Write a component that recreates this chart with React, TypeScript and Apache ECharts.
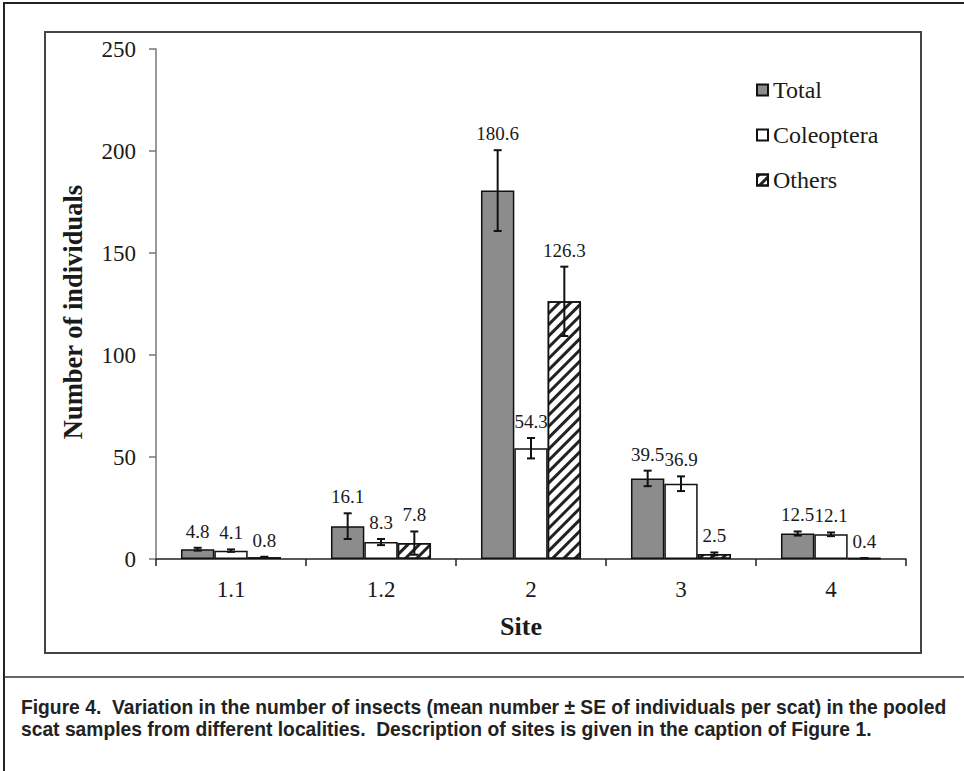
import React, { useEffect, useRef } from "react";
import * as echarts from "echarts";

const sites = ["1.1", "1.2", "2", "3", "4"];
const seriesNames = ["Total", "Coleoptera", "Others"];
const totalMean = [4.8, 16.1, 180.6, 39.5, 12.5];
const totalSE = [0.7, 6.3, 19.8, 3.8, 1.0];
const coleopteraMean = [4.1, 8.3, 54.3, 36.9, 12.1];
const coleopteraSE = [0.6, 1.5, 5.0, 3.6, 0.9];
const othersMean = [0.8, 7.8, 126.3, 2.5, 0.4];
const othersSE = [0.3, 5.7, 17.0, 0.7, 0.1];
const yTicks = [0, 50, 100, 150, 200, 250];
const caption1 =
  "Figure 4.  Variation in the number of insects (mean number \u00b1 SE of individuals per scat) in the pooled";
const caption2 =
  "scat samples from different localities.  Description of sites is given in the caption of Figure 1.";

const means = [totalMean, coleopteraMean, othersMean];
const ses = [totalSE, coleopteraSE, othersSE];

const SERIF = '"Liberation Serif", "Times New Roman", serif';
const SANS = '"Liberation Sans", Arial, sans-serif';

export default function App() {
  const ref = useRef<HTMLDivElement>(null);
  useEffect(() => {
    document.body.style.margin = "0";
    if (!ref.current) return;
    const chart = echarts.init(ref.current, null, { renderer: "svg" });

    const capFont = `bold 20px ${SANS}`;
    let capScale = 0.95;
    try {
      const ctx = document.createElement("canvas").getContext("2d");
      if (ctx) {
        ctx.font = capFont;
        const w = ctx.measureText(caption1).width;
        if (w > 0) capScale = 926 / w;
      }
    } catch (e) {}

    const errSeries = (k: number) => ({
      type: "custom",
      name: "err" + k,
      z: 5,
      silent: true,
      data: sites.map((_, i) => [i, means[k][i], ses[k][i]]),
      renderItem: (params: any, api: any) => {
        const ci = api.value(0);
        const v = api.value(1);
        const se = api.value(2);
        const band = api.size([1, 0])[0];
        const bw = (band * 2) / 9;
        const c = api.coord([ci, v]);
        const x = c[0] + (k - 1) * bw;
        const top = api.coord([ci, v + se])[1];
        const bot = api.coord([ci, v - se])[1];
        const half = 4;
        const st = { stroke: "#111", lineWidth: 2 };
        return {
          type: "group",
          children: [
            { type: "line", shape: { x1: x, y1: top, x2: x, y2: bot }, style: st },
            { type: "line", shape: { x1: x - half, y1: top, x2: x + half, y2: top }, style: st },
            { type: "line", shape: { x1: x - half, y1: bot, x2: x + half, y2: bot }, style: st },
            {
              type: "text",
              x,
              y: top - 7,
              style: {
                text: v.toFixed(1),
                textAlign: "center",
                textVerticalAlign: "bottom",
                font: `19px ${SERIF}`,
                fill: "#1a1a1a",
              },
            },
          ],
        };
      },
    });

    const barStyles = [
      { color: "#8c8c8c", borderColor: "#111", borderWidth: 1.5 },
      { color: "#ffffff", borderColor: "#111", borderWidth: 1.5 },
      {
        color: "#ffffff",
        borderColor: "#111",
        borderWidth: 1.5,
        decal: {
          symbol: "rect",
          symbolSize: 1,
          color: "#222",
          dashArrayX: [1, 0],
          dashArrayY: [3, 5],
          rotation: -Math.PI / 4,
        },
      },
    ];

    chart.setOption({
      animation: false,
      textStyle: { fontFamily: SERIF },
      grid: { left: 156, right: 58, top: 49, bottom: 212, containLabel: false },
      legend: {
        data: seriesNames,
        orient: "vertical",
        left: 751,
        top: 73,
        itemWidth: 11,
        itemHeight: 11,
        itemGap: 21,
        icon: "rect",
        textStyle: { fontFamily: SERIF, fontSize: 24, color: "#1a1a1a" },
      },
      xAxis: {
        type: "category",
        data: sites,
        name: "Site",
        nameLocation: "middle",
        nameGap: 54,
        nameTextStyle: {
          fontFamily: SERIF,
          fontSize: 26,
          fontWeight: "bold",
          color: "#1a1a1a",
          padding: [0, 20, 0, 0],
        },
        axisLine: { lineStyle: { color: "#222", width: 1.5 } },
        axisTick: { show: true, length: 7, lineStyle: { color: "#222", width: 1.5 } },
        axisLabel: { fontFamily: SERIF, fontSize: 23, color: "#1a1a1a", margin: 19 },
      },
      yAxis: {
        type: "value",
        min: 0,
        max: 250,
        interval: 50,
        name: "Number of individuals",
        nameLocation: "middle",
        nameGap: 70,
        nameTextStyle: {
          fontFamily: SERIF,
          fontSize: 26.5,
          fontWeight: "bold",
          color: "#1a1a1a",
          padding: [0, 16, 0, 0],
        },
        splitLine: { show: false },
        axisLine: { show: true, lineStyle: { color: "#777", width: 1.5 } },
        axisTick: { show: true, length: 7, lineStyle: { color: "#777", width: 1.5 } },
        axisLabel: {
          fontFamily: SERIF,
          fontSize: 23,
          color: "#1a1a1a",
          margin: 20,
          formatter: (v: number) => (yTicks.includes(v) ? String(v) : ""),
        },
      },
      series: [
        ...seriesNames.map((n, k) => ({
          type: "bar",
          name: n,
          data: means[k],
          barGap: "0%",
          barCategoryGap: "33.3%",
          itemStyle: barStyles[k],
          emphasis: { disabled: true },
        })),
        errSeries(0),
        errSeries(1),
        errSeries(2),
      ],
      graphic: [
        {
          type: "rect",
          shape: { x: 4, y: 3, width: 980, height: 800 },
          style: { fill: "none", stroke: "#222", lineWidth: 2 },
          silent: true,
        },
        {
          type: "line",
          shape: { x1: 4, y1: 677, x2: 964, y2: 677 },
          style: { stroke: "#333", lineWidth: 1.5 },
          silent: true,
        },
        {
          type: "rect",
          shape: { x: 45, y: 32, width: 876, height: 621 },
          style: { fill: "none", stroke: "#444", lineWidth: 2 },
          silent: true,
        },
        {
          type: "text",
          x: 21,
          y: 707,
          scaleX: capScale,
          style: {
            text: caption1,
            textVerticalAlign: "middle",
            font: capFont,
            fill: "#222",
          },
        },
        {
          type: "text",
          x: 21,
          y: 729,
          scaleX: capScale,
          style: {
            text: caption2,
            textVerticalAlign: "middle",
            font: capFont,
            fill: "#222",
          },
        },
      ],
    });
    return () => chart.dispose();
  }, []);
  return <div ref={ref} style={{ width: 964, height: 771 }} />;
}
